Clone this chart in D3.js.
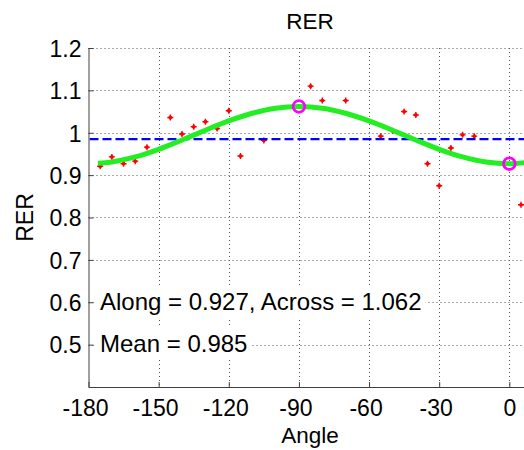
<!DOCTYPE html>
<html>
<head>
<meta charset="utf-8">
<script src="https://cdn.jsdelivr.net/npm/d3@7"></script>
<style>
  html, body { margin: 0; padding: 0; background: #fff; }
  svg { display: block; }
  text { font-family: "Liberation Sans", Arial, sans-serif; fill: #000; }
</style>
</head>
<body>
<svg id="chart" width="524" height="450"></svg>
<script>
// Measured RER samples (angle in degrees, RER value)
const sampleAngles = [-175, -170, -165, -160, -155, -145, -140, -135, -130, -125, -120, -115, -105,
                      -85, -80, -70, -55, -50, -45, -40, -35, -30, -25, -20, -15, 5];
const sampleValues = [0.921, 0.943, 0.927, 0.933, 0.966, 1.036, 0.997, 1.014, 1.026, 1.010, 1.052, 0.945, 0.982,
                      1.110, 1.076, 1.076, 0.992, 1.005, 1.050, 1.042, 0.927, 0.875, 0.964, 0.995, 0.992, 0.830];

// Fitted directional RER curve
const fitAngles = [-176, -170, -160, -150, -140, -130, -120, -110, -100, -90, -80, -70, -60, -50, -40, -30, -20, -10, 0, 8];
const fitValues = [0.928, 0.931, 0.943, 0.961, 0.983, 1.006, 1.028, 1.046, 1.058, 1.062, 1.058, 1.046, 1.028, 1.006, 0.983, 0.961, 0.943, 0.931, 0.927, 0.930];

// Along-track / across-track results and mean
const alongAngle = 0, alongValue = 0.927;
const acrossAngle = -90, acrossValue = 1.062;
const meanValue = 0.985;

// Axis ticks
const xTicks = [-180, -150, -120, -90, -60, -30, 0];
const yTicks = [0.5, 0.6, 0.7, 0.8, 0.9, 1.0, 1.1, 1.2];
const yTickLabels = ["0.5", "0.6", "0.7", "0.8", "0.9", "1", "1.1", "1.2"];

const svg = d3.select("#chart");
const plotLeft = 88.5, plotBottom = 387, plotTop = 48;
const degPx = 2.338;
const fontFamily = "'Liberation Sans', Arial, sans-serif";

const x = d3.scaleLinear().domain([-180, 10]).range([plotLeft, plotLeft + 190 * degPx]);
const y = d3.scaleLinear().domain([0.4, 1.2]).range([plotBottom, plotTop]);

const gridColor = "#555";
const axisColor = "#404040";

// Grid lines
const grid = svg.append("g");
grid.selectAll("line.h").data(yTicks).join("line")
  .attr("x1", plotLeft).attr("x2", 524)
  .attr("y1", d => Math.round(y(d)) + 0.5).attr("y2", d => Math.round(y(d)) + 0.5)
  .attr("stroke", gridColor).attr("stroke-width", 1).attr("stroke-dasharray", "1,3");
grid.selectAll("line.v").data(xTicks.filter(d => d > -180)).join("line")
  .attr("x1", d => Math.round(x(d)) + 0.5).attr("x2", d => Math.round(x(d)) + 0.5)
  .attr("y1", plotTop).attr("y2", plotBottom)
  .attr("stroke", gridColor).attr("stroke-width", 1).attr("stroke-dasharray", "1,3");

// Axes with inward ticks
const xAxis = d3.axisBottom(x).tickValues(xTicks).tickSizeInner(-5).tickSizeOuter(0).tickPadding(11)
  .tickFormat(d => String(d));
const gx = svg.append("g").attr("transform", `translate(0,${plotBottom})`).call(xAxis);
gx.select(".domain").attr("d", `M${plotLeft},0.5H524`).attr("stroke", axisColor);
gx.selectAll(".tick line").attr("stroke", axisColor);
gx.selectAll(".tick text").attr("font-size", 23).attr("dy", "0.8em")
  .attr("dx", d => d < 0 ? -3.5 : 0)
  .attr("font-family", fontFamily).attr("fill", "#000");

const yAxis = d3.axisLeft(y).tickValues(yTicks).tickSizeInner(-5).tickSizeOuter(0).tickPadding(7)
  .tickFormat((d, i) => yTickLabels[i]);
const gy = svg.append("g").attr("transform", `translate(${plotLeft},0)`).call(yAxis);
gy.select(".domain").attr("d", `M0.5,${plotTop}V${plotBottom}`).attr("stroke", axisColor);
gy.selectAll(".tick line").attr("stroke", axisColor);
gy.selectAll(".tick text").attr("font-size", 23).attr("dy", "0.36em")
  .attr("font-family", fontFamily).attr("fill", "#000");

// Plot-area clip
svg.append("clipPath").attr("id", "plot-clip")
  .append("rect").attr("x", plotLeft + 1).attr("y", plotTop - 8)
  .attr("width", 524 - plotLeft).attr("height", plotBottom - plotTop + 8);
const plot = svg.append("g").attr("clip-path", "url(#plot-clip)");

// Sample points
const pts = sampleAngles.map((a, i) => [a, sampleValues[i]]);
const ptG = plot.append("g").attr("fill", "#ff0000").attr("stroke", "#ff0000");
ptG.selectAll("circle").data(pts).join("circle")
  .attr("cx", d => x(d[0])).attr("cy", d => y(d[1])).attr("r", 1.9).attr("stroke", "none");
ptG.selectAll("path").data(pts).join("path")
  .attr("d", d => `M${x(d[0]) - 3},${y(d[1])}H${x(d[0]) + 3}M${x(d[0])},${y(d[1]) - 3}V${y(d[1]) + 3}`)
  .attr("stroke-width", 1.4).attr("fill", "none");

// Mean line
plot.append("line")
  .attr("x1", plotLeft + 1).attr("x2", 524)
  .attr("y1", y(meanValue)).attr("y2", y(meanValue))
  .attr("stroke", "#0000ff").attr("stroke-width", 2.2).attr("stroke-dasharray", "9,4");

// Fitted curve
const line = d3.line().x(d => x(d[0])).y(d => y(d[1])).curve(d3.curveCatmullRom);
plot.append("path")
  .datum(fitAngles.map((a, i) => [a, fitValues[i]]))
  .attr("d", line)
  .attr("fill", "none").attr("stroke", "#22ee22").attr("stroke-width", 5)
  .attr("stroke-linecap", "butt");

// Along / across markers
plot.selectAll("circle.mk").data([[acrossAngle, acrossValue], [alongAngle, alongValue]]).join("circle")
  .attr("class", "mk")
  .attr("cx", d => x(d[0])).attr("cy", d => y(d[1])).attr("r", 5.8)
  .attr("fill", "none").attr("stroke", "#ff00ff").attr("stroke-width", 2.8);

// Annotation text with white backgrounds
function note(txt, tx, ty) {
  const g = svg.append("g");
  const bg = g.append("rect").attr("fill", "#fff");
  const t = g.append("text").attr("x", tx).attr("y", ty).attr("font-size", 24).text(txt);
  const bb = t.node().getBBox();
  bg.attr("x", bb.x - 4).attr("y", bb.y - 2).attr("width", bb.width + 8).attr("height", bb.height + 4);
}
note(`Along = ${alongValue.toFixed(3)}, Across = ${acrossValue.toFixed(3)}`, 100, 310);
note(`Mean = ${meanValue.toFixed(3)}`, 100, 352);

// Title and axis labels
svg.append("text").attr("x", 310).attr("y", 29).attr("text-anchor", "middle").attr("font-size", 22.5).text("RER");
svg.append("text").attr("x", 310).attr("y", 443).attr("text-anchor", "middle").attr("font-size", 22.5).text("Angle");
svg.append("text").attr("transform", `translate(33,${(plotTop + plotBottom) / 2}) rotate(-90)`)
  .attr("text-anchor", "middle").attr("font-size", 23).text("RER");
</script>
</body>
</html>
